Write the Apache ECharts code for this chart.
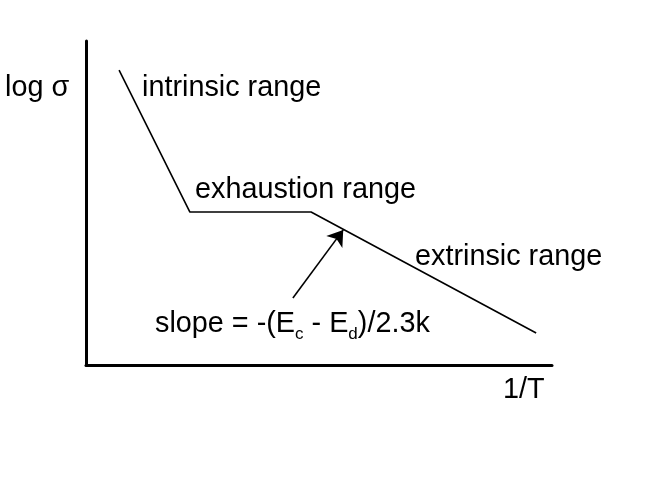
<!DOCTYPE html>
<html>
<head>
<meta charset="utf-8">
<script src="https://cdn.jsdelivr.net/npm/echarts@6/dist/echarts.min.js"></script>
<style>
html,body{margin:0;padding:0;background:#fff;}
#c{width:657px;height:483px;}
</style>
</head>
<body>
<div id="c"></div>
<script>
// Schematic: log(conductivity) vs 1/T, arbitrary units 0-100
var curveX = [7.1, 22.3, 48.3, 96.6];
var curveY = [91.0, 47.2, 47.2, 9.9];
var arrowFrom = [44.4, 20.7];
var arrowTo = [55.2, 41.7];
var yAxisTitle = 'log σ';
var xAxisTitle = '1/T';
var rangeLabels = ['intrinsic range', 'exhaustion range', 'extrinsic range'];

var chart = echarts.init(document.getElementById('c'), null, {renderer: 'canvas'});
var family = '"Liberation Sans", Arial, sans-serif';
var fs = 28.8;
var f = fs + 'px ' + family;

var curveData = curveX.map(function (x, i) { return [x, curveY[i]]; });

chart.setOption({
  animation: false,
  backgroundColor: '#fff',
  grid: {left: 86, right: 105, top: 41, bottom: 118},
  xAxis: {
    type: 'value', min: 0, max: 100,
    axisLine: {onZero: false, lineStyle: {color: '#000', width: 3}},
    axisTick: {show: false}, axisLabel: {show: false}, splitLine: {show: false}
  },
  yAxis: {
    type: 'value', min: 0, max: 100,
    axisLine: {show: true, onZero: false, lineStyle: {color: '#000', width: 3}},
    axisTick: {show: false}, axisLabel: {show: false}, splitLine: {show: false}
  },
  series: [
    {
      type: 'line',
      data: curveData,
      showSymbol: false,
      symbol: 'none',
      lineStyle: {color: '#000', width: 1.6},
      silent: true
    },
    {
      type: 'lines',
      coordinateSystem: 'cartesian2d',
      symbol: ['none', 'arrow'],
      symbolSize: [0, 15],
      lineStyle: {color: '#000', width: 1.6, opacity: 1},
      data: [{coords: [arrowFrom, arrowTo]}],
      silent: true
    }
  ],
  graphic: [
    {type: 'text', left: 5, top: 74, style: {text: yAxisTitle, font: f, fill: '#000'}},
    {type: 'text', left: 142, top: 74, style: {text: rangeLabels[0], font: f, fill: '#000'}},
    {type: 'text', left: 195, top: 176, style: {text: rangeLabels[1], font: f, fill: '#000'}},
    {type: 'text', left: 415, top: 242.5, style: {text: rangeLabels[2], font: f, fill: '#000'}},
    {type: 'text', left: 503, top: 376, style: {text: xAxisTitle, font: f, fill: '#000'}},
    {type: 'text', left: 155, top: 310, style: {
      text: 'slope = -(E{s|c} - E{s|d})/2.3k',
      font: f, fill: '#000',
      rich: {s: {fontSize: 17, fontFamily: family, verticalAlign: 'bottom', lineHeight: 36}}
    }}
  ]
});
</script>
</body>
</html>
